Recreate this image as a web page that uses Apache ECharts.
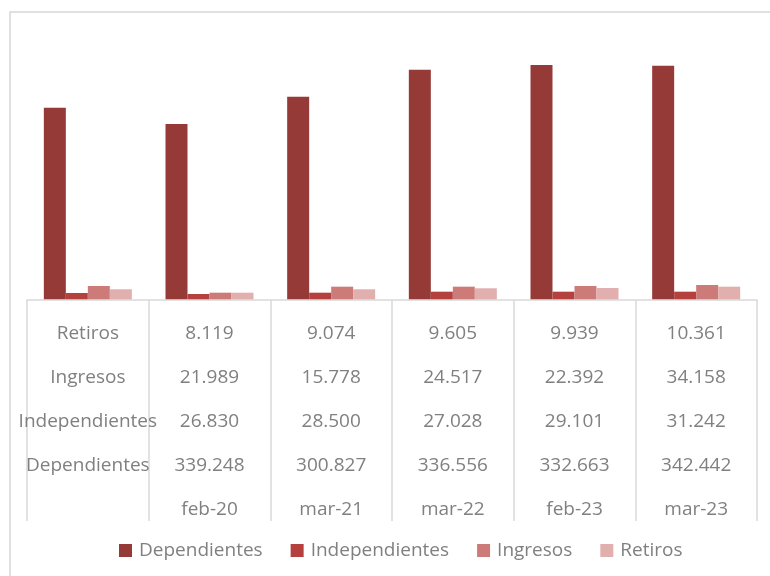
<!DOCTYPE html>
<html>
<head>
<meta charset="utf-8">
<script src="https://cdn.jsdelivr.net/npm/echarts@6/dist/echarts.min.js"></script>
<style>
html,body{margin:0;padding:0;background:#fff;}
#chart{width:770px;height:576px;}
</style>
</head>
<body>
<div id="chart"></div>
<script>
// Series names (legend + table row labels)
var seriesNames = ['Dependientes', 'Independientes', 'Ingresos', 'Retiros'];

// Bar heights (arbitrary units, six bar groups)
var barDependientes   = [344.5, 315.2, 364.3, 412.8, 421.3, 420.0];
var barIndependientes = [11.3, 9.5, 11.9, 13.7, 13.7, 13.7];
var barIngresos       = [23.9, 11.9, 22.7, 22.7, 23.9, 25.7];
var barRetiros        = [18.0, 11.9, 18.0, 19.8, 20.3, 22.7];

// Data table below the bars (first column holds the row labels)
var tableDates          = ['', 'feb-20', 'mar-21', 'mar-22', 'feb-23', 'mar-23'];
var tableRetiros        = [8119, 9074, 9605, 9939, 10361];
var tableIngresos       = [21989, 15778, 24517, 22392, 34158];
var tableIndependientes = [26830, 28500, 27028, 29101, 31242];
var tableDependientes   = [339248, 300827, 336556, 332663, 342442];

var colors = ['#963a38', '#b5413f', '#cd7b79', '#e1afae'];
var textColor = '#808080';
var gridLineColor = '#d9d9d9';
var fontFamily = '"Open Sans", "Noto Sans", sans-serif';

function fmt(n) {
  return String(n).replace(/\B(?=(\d{3})+(?!\d))/g, '.');
}

var groupCats = ['g1', 'g2', 'g3', 'g4', 'g5', 'g6'];

var chart = echarts.init(document.getElementById('chart'), null, {renderer: 'canvas'});

var option = {
  animation: false,
  backgroundColor: '#ffffff',
  color: colors,
  textStyle: {fontFamily: fontFamily},
  graphic: [{
    type: 'rect',
    shape: {x: 10, y: 12, width: 800, height: 620},
    style: {fill: 'none', stroke: '#d6d6d6', lineWidth: 1.5},
    silent: true
  }],
  legend: {
    data: seriesNames,
    left: 114,
    top: 536,
    itemWidth: 13,
    itemHeight: 13,
    itemGap: 28,
    icon: 'rect',
    textStyle: {color: textColor, fontSize: 19, fontFamily: fontFamily, padding: [0, 0, 0, 2]}
  },
  grid: [
    {left: 27, right: 13, top: 21.2, bottom: 276.7, show: false},
    {left: 27, right: 13, top: 300, height: 221, show: false}
  ],
  xAxis: [
    {
      type: 'category', gridIndex: 0, data: groupCats,
      axisLine: {show: false}, axisTick: {show: false}, axisLabel: {show: false},
      splitLine: {show: false}
    },
    {
      type: 'category', gridIndex: 1, data: tableDates, position: 'top',
      axisLine: {show: true, onZero: false, lineStyle: {color: gridLineColor, width: 1.5}},
      axisTick: {show: false},
      splitLine: {show: true, interval: 0, lineStyle: {color: gridLineColor, width: 1.5}},
      axisLabel: {
        show: true, inside: true, interval: 0, margin: 11,
        color: textColor, fontSize: 19, fontFamily: fontFamily, lineHeight: 44.2,
        formatter: function (val, idx) {
          if (idx === 0) {
            return ['Retiros', 'Ingresos', 'Independientes', 'Dependientes', ' '].join('\n');
          }
          var i = idx - 1;
          return [fmt(tableRetiros[i]), fmt(tableIngresos[i]), fmt(tableIndependientes[i]),
                  fmt(tableDependientes[i]), val].join('\n');
        }
      }
    }
  ],
  yAxis: [
    {type: 'value', gridIndex: 0, min: 0, max: 500, show: false, splitLine: {show: false}},
    {type: 'value', gridIndex: 1, min: 0, max: 1, show: false, splitLine: {show: false}, axisLine: {show: false}}
  ],
  series: [
    {name: seriesNames[0], type: 'bar', data: barDependientes, barWidth: 22, barGap: '0%', xAxisIndex: 0, yAxisIndex: 0},
    {name: seriesNames[1], type: 'bar', data: barIndependientes, barWidth: 22, barGap: '0%', xAxisIndex: 0, yAxisIndex: 0},
    {name: seriesNames[2], type: 'bar', data: barIngresos, barWidth: 22, barGap: '0%', xAxisIndex: 0, yAxisIndex: 0},
    {name: seriesNames[3], type: 'bar', data: barRetiros, barWidth: 22, barGap: '0%', xAxisIndex: 0, yAxisIndex: 0}
  ]
};
chart.setOption(option);
</script>
</body>
</html>
